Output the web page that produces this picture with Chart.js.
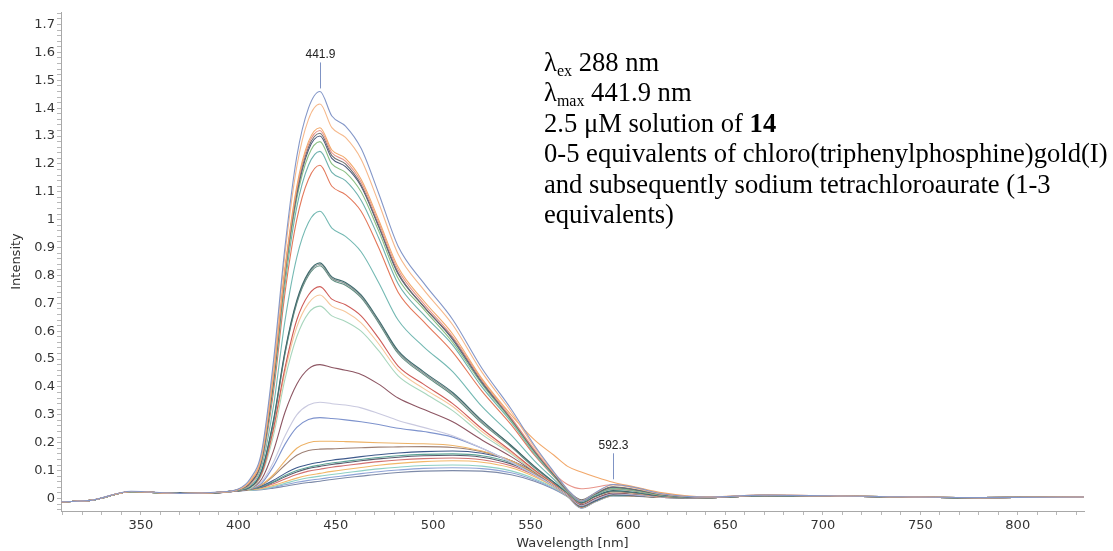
<!DOCTYPE html>
<html>
<head>
    <title>Emission titration of 14</title>
    <script src="https://cdn.jsdelivr.net/npm/chart.js"></script>
    <style>
        body { margin: 0; background: #fff; }
        .wrap { position: relative; width: 1113px; height: 551px; }
        .note { position: absolute; left: 544px; top: 47px; font: 26.6px 'Liberation Serif', serif; line-height: 30.4px; color: #000; white-space: nowrap; }
        .note sub { font-size: 16px; vertical-align: -5px; line-height: 0; }
    </style>
</head>
<body>
<div class="wrap">
    <canvas id="spectra" width="1113" height="551"></canvas>
    <div class="note">
        λ<sub>ex</sub> 288 nm<br>
        λ<sub>max</sub> 441.9 nm<br>
        2.5 μM solution of <b>14</b><br>
        0-5 equivalents of chloro(triphenylphosphine)gold(I)<br>
        and subsequently sodium tetrachloroaurate (1-3<br>
        equivalents)
    </div>
</div>

<script>
    // ===== DATA =====
    const wavelength = [309, 325, 345, 370, 390, 400, 406, 412, 418, 424, 430, 436, 441.9, 448, 455, 463, 472, 482, 495, 510,
        525, 540, 552, 562, 569, 576, 583, 592.3, 603, 618, 640, 670, 720, 780, 834];

    // gold(I) additions
    const trace01 = [-0.012,-0.006,0.026,0.018,0.023,0.034, 0.07,0.17,0.49,0.905,1.226,1.40,1.46,1.372,1.336,1.256,1.095,0.905,0.774,0.642,0.467,0.321,0.19,0.095,0.032, -0.01,0.02,0.05,0.04,0.016,0.005,0.012,0.008,0.003,0.005];
    const trace02 = [-0.012,-0.006,0.025,0.018,0.022,0.033, 0.065,0.16,0.47,0.88,1.19,1.36,1.415,1.33,1.295,1.217,1.061,0.877,0.75,0.623,0.453,0.311,0.184,0.092,0.031, -0.008,0.019,0.048,0.038,0.015,0.005,0.012,0.008,0.003,0.005];
    const trace03 = [-0.012,-0.006,0.025,0.018,0.022,0.033, 0.06,0.15,0.44,0.83,1.12,1.28,1.33,1.25,1.22,1.145,1.0,0.83,0.71,0.59,0.43,0.30,0.21,0.155,0.115, 0.095,0.078,0.058,0.042,0.02,0.006,0.012,0.008,0.003,0.005];
    const trace04 = [-0.012,-0.006,0.025,0.018,0.022,0.032, 0.06,0.15,0.44,0.82,1.11,1.27,1.32,1.24,1.21,1.135,0.99,0.82,0.70,0.58,0.425,0.29,0.175,0.09,0.05, 0.035,0.04,0.05,0.04,0.016,0.005,0.012,0.008,0.003,0.005];
    const trace05 = [-0.012,-0.006,0.025,0.018,0.022,0.032, 0.06,0.15,0.43,0.82,1.10,1.26,1.31,1.23,1.20,1.125,0.98,0.81,0.69,0.575,0.42,0.285,0.17,0.085,0.03, -0.005,0.018,0.042,0.033,0.014,0.004,0.011,0.008,0.003,0.005];
    const trace06 = [-0.012,-0.006,0.025,0.018,0.022,0.032, 0.055,0.14,0.42,0.81,1.09,1.25,1.30,1.22,1.19,1.12,0.975,0.805,0.69,0.57,0.415,0.285,0.17,0.085,0.028, -0.008,0.016,0.04,0.032,0.013,0.004,0.011,0.008,0.003,0.005];
    const trace07 = [-0.012,-0.006,0.024,0.018,0.022,0.031, 0.055,0.14,0.41,0.79,1.075,1.23,1.28,1.20,1.17,1.10,0.96,0.79,0.68,0.56,0.41,0.28,0.165,0.083,0.027, -0.01,0.015,0.038,0.03,0.012,0.004,0.011,0.008,0.003,0.005];
    const trace08 = [-0.012,-0.006,0.024,0.018,0.022,0.031, 0.055,0.135,0.40,0.77,1.045,1.195,1.245,1.17,1.14,1.07,0.935,0.77,0.66,0.55,0.40,0.275,0.16,0.08,0.026, -0.01,0.014,0.036,0.029,0.012,0.004,0.011,0.008,0.003,0.005];
    const trace09 = [-0.012,-0.006,0.024,0.018,0.022,0.031, 0.05,0.13,0.38,0.74,1.0,1.145,1.195,1.12,1.09,1.03,0.90,0.74,0.635,0.525,0.385,0.265,0.155,0.078,0.025, -0.01,0.014,0.035,0.028,0.011,0.004,0.011,0.008,0.003,0.005];
    const trace10 = [-0.012,-0.006,0.024,0.018,0.022,0.031, 0.045,0.115,0.33,0.64,0.865,0.99,1.03,0.97,0.94,0.885,0.775,0.64,0.545,0.455,0.33,0.228,0.135,0.068,0.022, -0.012,0.012,0.032,0.026,0.01,0.004,0.011,0.008,0.003,0.005];
    const trace11 = [-0.012,-0.006,0.024,0.018,0.021,0.03, 0.04,0.10,0.28,0.53,0.71,0.81,0.845,0.795,0.775,0.73,0.64,0.53,0.455,0.38,0.28,0.19,0.115,0.058,0.02, -0.015,0.008,0.028,0.022,0.008,0.003,0.01,0.007,0.003,0.005];
    const trace12 = [-0.012,-0.006,0.024,0.018,0.021,0.03, 0.04,0.10,0.275,0.525,0.705,0.805,0.84,0.79,0.77,0.725,0.635,0.525,0.45,0.375,0.275,0.19,0.113,0.057,0.02, -0.015,0.008,0.027,0.022,0.008,0.003,0.01,0.007,0.003,0.005];
    const trace13 = [-0.012,-0.006,0.024,0.018,0.021,0.03, 0.04,0.10,0.27,0.52,0.70,0.80,0.835,0.785,0.765,0.72,0.63,0.52,0.445,0.37,0.27,0.185,0.11,0.056,0.02, -0.016,0.007,0.026,0.021,0.008,0.003,0.01,0.007,0.003,0.005];
    const trace14 = [-0.012,-0.006,0.024,0.018,0.021,0.03, 0.04,0.09,0.25,0.47,0.64,0.73,0.76,0.715,0.695,0.655,0.575,0.475,0.41,0.34,0.25,0.17,0.102,0.052,0.018, -0.018,0.006,0.025,0.02,0.007,0.003,0.01,0.007,0.003,0.005];
    const trace15 = [-0.012,-0.006,0.024,0.018,0.021,0.03, 0.04,0.09,0.24,0.455,0.615,0.70,0.73,0.69,0.67,0.63,0.555,0.46,0.395,0.33,0.24,0.165,0.10,0.05,0.018, -0.018,0.006,0.024,0.019,0.007,0.003,0.01,0.007,0.003,0.005];
    const trace16 = [-0.012,-0.006,0.024,0.018,0.021,0.03, 0.035,0.085,0.225,0.43,0.58,0.665,0.69,0.655,0.635,0.60,0.53,0.44,0.38,0.315,0.23,0.16,0.097,0.049,0.017, -0.019,0.005,0.023,0.018,0.007,0.003,0.01,0.007,0.003,0.005];
    const trace17 = [-0.012,-0.006,0.024,0.018,0.021,0.029, 0.035,0.07,0.17,0.31,0.41,0.465,0.48,0.47,0.46,0.445,0.41,0.36,0.32,0.275,0.21,0.15,0.095,0.048,0.015, -0.022,0.0,0.02,0.016,0.006,0.003,0.01,0.007,0.003,0.005];
    // tetrachloroaurate additions
    const trace18 = [-0.012,-0.006,0.024,0.018,0.021,0.029, 0.035,0.06,0.13,0.225,0.30,0.335,0.345,0.34,0.335,0.325,0.305,0.28,0.255,0.225,0.18,0.13,0.085,0.045,0.012, -0.024,-0.003,0.018,0.014,0.005,0.003,0.01,0.007,0.003,0.005];
    const trace19 = [-0.012,-0.006,0.024,0.018,0.021,0.029, 0.035,0.055,0.115,0.195,0.255,0.283,0.29,0.287,0.282,0.275,0.265,0.252,0.24,0.22,0.18,0.13,0.085,0.045,0.012, -0.025,-0.004,0.017,0.013,0.005,0.003,0.01,0.007,0.003,0.005];
    const trace20 = [-0.012,-0.006,0.024,0.018,0.021,0.029, 0.035,0.05,0.085,0.135,0.18,0.20,0.205,0.205,0.204,0.202,0.2,0.198,0.196,0.19,0.17,0.135,0.092,0.05,0.014, -0.025,-0.004,0.018,0.014,0.005,0.003,0.01,0.007,0.003,0.005];
    const trace21 = [-0.012,-0.006,0.024,0.018,0.021,0.029, 0.035,0.048,0.08,0.12,0.155,0.172,0.177,0.178,0.18,0.182,0.184,0.185,0.186,0.183,0.168,0.135,0.09,0.048,0.012, -0.026,-0.005,0.016,0.012,0.004,0.003,0.01,0.007,0.003,0.005];
    const trace22 = [-0.012,-0.006,0.024,0.019,0.021,0.028, 0.035,0.045,0.065,0.09,0.11,0.122,0.13,0.137,0.143,0.15,0.157,0.163,0.168,0.17,0.162,0.135,0.095,0.05,0.012, -0.028,-0.008,0.014,0.011,0.004,0.003,0.01,0.007,0.003,0.005];
    const trace23 = [-0.012,-0.006,0.024,0.019,0.021,0.028, 0.033,0.042,0.06,0.082,0.1,0.112,0.12,0.127,0.133,0.14,0.147,0.153,0.158,0.16,0.153,0.128,0.09,0.047,0.011, -0.029,-0.009,0.013,0.011,0.004,0.003,0.01,0.007,0.003,0.005];
    const trace24 = [-0.012,-0.006,0.024,0.019,0.021,0.027, 0.033,0.041,0.058,0.078,0.095,0.108,0.115,0.122,0.128,0.135,0.142,0.148,0.153,0.155,0.148,0.124,0.087,0.046,0.011, -0.03,-0.009,0.013,0.01,0.004,0.003,0.01,0.007,0.003,0.005];
    const trace25 = [-0.012,-0.006,0.024,0.019,0.021,0.027, 0.032,0.039,0.053,0.07,0.086,0.098,0.105,0.112,0.118,0.125,0.132,0.138,0.143,0.145,0.139,0.117,0.083,0.044,0.01, -0.031,-0.01,0.012,0.01,0.004,0.003,0.01,0.007,0.003,0.005];
    const trace26 = [-0.012,-0.006,0.024,0.019,0.021,0.027, 0.031,0.036,0.047,0.06,0.073,0.083,0.09,0.097,0.104,0.111,0.119,0.126,0.132,0.135,0.13,0.11,0.078,0.042,0.009, -0.032,-0.011,0.011,0.009,0.004,0.003,0.01,0.007,0.003,0.005];
    const trace27 = [-0.012,-0.006,0.024,0.019,0.021,0.027, 0.03,0.034,0.043,0.054,0.065,0.074,0.08,0.086,0.092,0.099,0.106,0.112,0.118,0.12,0.116,0.099,0.071,0.038,0.008, -0.033,-0.012,0.01,0.009,0.004,0.003,0.01,0.007,0.003,0.005];
    const trace28 = [-0.012,-0.006,0.024,0.019,0.021,0.027, 0.03,0.033,0.04,0.049,0.058,0.065,0.07,0.076,0.082,0.089,0.096,0.102,0.108,0.11,0.107,0.092,0.066,0.035,0.007, -0.034,-0.012,0.01,0.008,0.004,0.003,0.01,0.007,0.003,0.005];
    const trace29 = [-0.012,-0.006,0.024,0.019,0.021,0.027, 0.029,0.031,0.037,0.044,0.051,0.057,0.062,0.068,0.074,0.08,0.087,0.093,0.098,0.1,0.098,0.085,0.062,0.033,0.006, -0.035,-0.013,0.009,0.008,0.004,0.003,0.01,0.007,0.003,0.005];

    const traces = [trace01, trace02, trace03, trace04, trace05, trace06, trace07, trace08, trace09, trace10,
        trace11, trace12, trace13, trace14, trace15, trace16, trace17, trace18, trace19, trace20,
        trace21, trace22, trace23, trace24, trace25, trace26, trace27, trace28, trace29];

    const traceColors = ['#8497c8','#f6b98c','#f2a86a','#e8948a','#707070','#4d5b7c','#8cc084','#6fb1ae','#e3785a','#74b9b3',
        '#3e6b6d','#8a9494','#5f8f80','#cf5d58','#f6c89c','#a8d6bd','#8d5663','#c9c9df','#7e93cd','#edb266',
        '#9d8075','#3f5a8c','#5ea496','#5a5a6e','#d27272','#f2b868','#8fd0c4','#8fa3d6','#7d8aa8'];

    // labelled maxima
    const peakWavelengths = [441.9, 592.3];

    // ===== PEAK LABELS =====
    const peakMarks = {
        id: 'peakMarks',
        afterDatasetsDraw(chart) {
            const { ctx, scales: { x, y } } = chart;
            ctx.save();
            ctx.font = '12px "Liberation Sans", Arial, sans-serif';
            ctx.textAlign = 'center';
            ctx.textBaseline = 'middle';
            peakWavelengths.forEach(w => {
                const j = wavelength.indexOf(w);
                const top = Math.max(...traces.map(t => t[j]));
                const px = Math.round(x.getPixelForValue(w)) + 0.5;
                const py = y.getPixelForValue(top);
                ctx.strokeStyle = '#7f93c4';
                ctx.lineWidth = 1;
                ctx.beginPath();
                ctx.moveTo(px, py - 3);
                ctx.lineTo(px, py - 29);
                ctx.stroke();
                ctx.fillStyle = '#222';
                ctx.fillText(w.toFixed(1), px, py - 37);
            });
            ctx.restore();
        }
    };

    // ===== CHART =====
    const tickFont = { family: "'DejaVu Sans', Verdana, sans-serif", size: 13 };

    new Chart(document.getElementById('spectra'), {
        type: 'line',
        data: {
            datasets: traces.map((vals, i) => ({
                data: vals.map((v, j) => ({ x: wavelength[j], y: v })),
                borderColor: traceColors[i],
                borderWidth: 1.1,
                pointRadius: 0,
                cubicInterpolationMode: 'monotone',
                fill: false
            }))
        },
        options: {
            responsive: false,
            devicePixelRatio: 1,
            animation: false,
            events: [],
            layout: { padding: { top: 12, right: 29, left: 0, bottom: 0 } },
            plugins: { legend: { display: false }, tooltip: { enabled: false } },
            scales: {
                x: {
                    type: 'linear',
                    min: 309,
                    max: 834,
                    afterFit: s => { s.height = 40; },
                    border: { color: '#a8a8a8' },
                    grid: { drawOnChartArea: false, drawTicks: true, tickLength: 4, color: '#b8b8b8' },
                    ticks: {
                        stepSize: 10,
                        includeBounds: false,
                        autoSkip: false,
                        maxRotation: 0,
                        padding: 3,
                        color: '#333',
                        font: tickFont,
                        callback: v => (Math.round(v) % 50 === 0 ? String(Math.round(v)) : '')
                    },
                    title: { display: true, text: 'Wavelength [nm]', color: '#333', font: tickFont, padding: { top: 0, bottom: 0 } }
                },
                y: {
                    min: -0.045,
                    max: 1.745,
                    afterFit: s => { s.width = 61; },
                    border: { color: '#a8a8a8' },
                    grid: { drawOnChartArea: false, drawTicks: true, tickLength: 4, color: '#b8b8b8' },
                    ticks: {
                        stepSize: 0.02,
                        includeBounds: false,
                        autoSkip: false,
                        padding: 2,
                        color: '#333',
                        font: tickFont,
                        callback: v => {
                            const r = Math.round(v * 100);
                            return r % 10 === 0 ? String(r / 100) : '';
                        }
                    },
                    title: { display: true, text: 'Intensity', color: '#333', font: tickFont, padding: { top: 9, bottom: 0 } }
                }
            }
        },
        plugins: [peakMarks]
    });
</script>
</body>
</html>
